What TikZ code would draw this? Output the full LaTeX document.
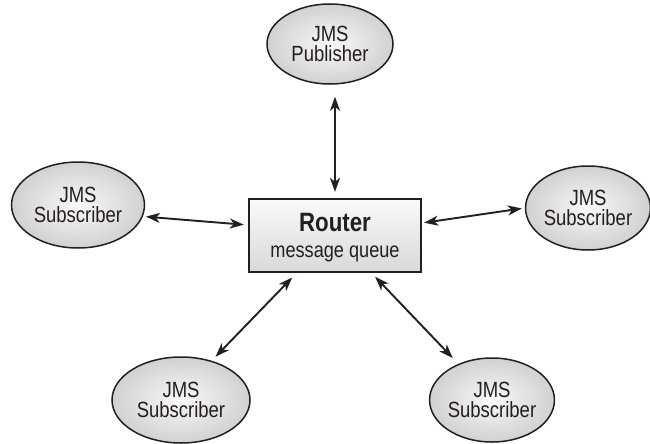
\documentclass[tikz,border=0pt]{standalone}
\usepackage{fontspec}
\setmainfont[FakeStretch=0.84]{Liberation Sans}
\usetikzlibrary{shapes.geometric,arrows.meta,calc}
\definecolor{ink}{HTML}{231F20}
\begin{document}
\begin{tikzpicture}[x=1pt,y=-1pt,
  ell/.style={ellipse, draw=ink, line width=1.5pt, minimum width=130pt, minimum height=84pt,
    inner sep=0pt, align=center, font=\fontsize{22}{20}\selectfont, text=ink,
    inner color=gray!5, outer color=gray!36},
  routerbox/.style={rectangle, draw=ink, line width=2.4pt, minimum width=172pt, minimum height=73pt,
    align=center, text=ink, text depth=0pt, font=\fontsize{21.6}{26}\selectfont,
    top color=gray!4, bottom color=gray!30},
  arr/.style={{Stealth[length=14pt,width=10pt,inset=4pt]}-{Stealth[length=14pt,width=10pt,inset=4pt]},
    line width=1.9pt, ink}
]
\useasboundingbox (0,0) rectangle (650,444);
\node[ell, minimum width=126pt, minimum height=80pt] (pub) at (330,44) {JMS\\Publisher};
\node[ell, minimum width=133pt, minimum height=86pt] (ls) at (78,205) {JMS\\Subscriber};
\node[ell, minimum width=122pt, minimum height=84pt] (rs) at (588,208) {JMS\\Subscriber};
\node[ell, minimum width=138pt, minimum height=86pt] (bl) at (181,400) {JMS\\Subscriber};
\node[ell, minimum width=124pt, minimum height=84pt] (br) at (492,400) {JMS\\Subscriber};
\node[routerbox] (router) at (335,235.5) {{\fontsize{26.5}{26}\selectfont\bfseries Router}\\message queue};

\draw[arr, shorten <=12pt, shorten >=6pt] (router.north |- pub.south) -- (router.north);
\draw[arr, shorten <=3pt, shorten >=4pt] (ls.-10) -- ([yshift=10.5pt]router.west);
\draw[arr, shorten <=2pt, shorten >=3pt] ([yshift=12.5pt]router.east) -- (rs.180);
\draw[arr, shorten <=6pt, shorten >=5.5pt] ([xshift=-38.6pt]router.south) -- (bl.52.4);
\draw[arr, shorten <=5pt, shorten >=8pt] ([xshift=36.7pt]router.south) -- (br.133.6);
\end{tikzpicture}
\end{document}
